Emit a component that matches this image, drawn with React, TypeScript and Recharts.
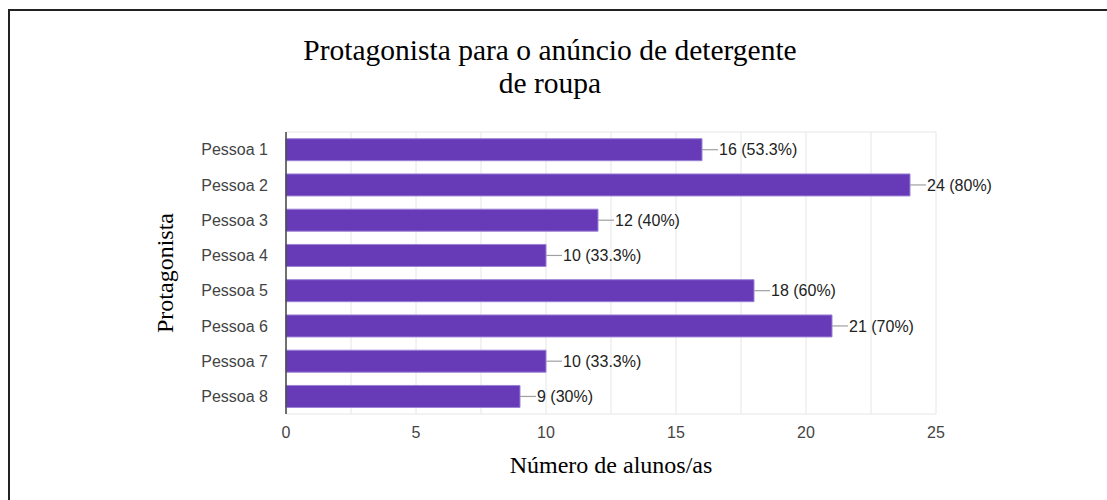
import { Bar, BarChart, CartesianGrid, LabelList, XAxis, YAxis } from "recharts"

const pessoas = ["Pessoa 1", "Pessoa 2", "Pessoa 3", "Pessoa 4", "Pessoa 5", "Pessoa 6", "Pessoa 7", "Pessoa 8"]
const alunos = [16, 24, 12, 10, 18, 21, 10, 9]
const percentuais = ["53.3%", "80%", "40%", "33.3%", "60%", "70%", "33.3%", "30%"]
const xTicks = [0, 5, 10, 15, 20, 25]
const gridValues = [0, 2.5, 5, 7.5, 10, 12.5, 15, 17.5, 20, 22.5, 25]

const data = pessoas.map((p, i) => ({ pessoa: p, alunos: alunos[i], pct: percentuais[i] }))

const sans = "Arial, 'Liberation Sans', sans-serif"
const serif = "'Times New Roman', 'Liberation Serif', serif"

const BarLabel = (props: any) => {
  const { x, y, width, height, index } = props
  const end = Number(x) + Number(width)
  const cy = Number(y) + Number(height) / 2
  return (
    <g>
      <line x1={end} y1={cy} x2={end + 16} y2={cy} stroke="#a0a0a0" strokeWidth={1.2} />
      <text x={end + 17} y={cy} dy="0.36em" fontFamily={sans} fontSize={16} fill="#222">
        {alunos[index]} ({percentuais[index]})
      </text>
    </g>
  )
}

const App = () => {
  return (
    <div style={{ position: "absolute", left: 0, top: 0, width: 1107, height: 500, overflow: "hidden", background: "#fff" }}>
      {/* frame + title */}
      <svg width={1107} height={500} style={{ position: "absolute", left: 0, top: 0 }}>
        <line x1={9} y1={9} x2={9} y2={500} stroke="#222" strokeWidth={2} />
        <line x1={8} y1={10} x2={1107} y2={10} stroke="#222" strokeWidth={2} />
        <text x={550} y={60} textAnchor="middle" fontFamily={serif} fontSize={29.5} fill="#000">
          Protagonista para o anúncio de detergente
        </text>
        <text x={550} y={93.3} textAnchor="middle" fontFamily={serif} fontSize={29.5} fill="#000">
          de roupa
        </text>
      </svg>
      <div style={{ position: "absolute", left: 0, top: 0 }}>
        <BarChart
          width={1107}
          height={500}
          data={data}
          layout="vertical"
          barCategoryGap="19%"
          margin={{ top: 132, right: 171, bottom: 26, left: 166 }}
        >
          <CartesianGrid
            stroke="#e6e6e6"
            verticalValues={gridValues}
            horizontalCoordinatesGenerator={({ offset, height }: any) => [offset.top, height - offset.bottom]}
          />
          <XAxis
            type="number"
            domain={[0, 25]}
            ticks={xTicks}
            height={60}
            axisLine={false}
            tickLine={false}
            tickSize={0}
            tickMargin={13}
            tick={{ fontFamily: sans, fontSize: 16, fill: "#444" }}
            label={{
              content: ({ viewBox }: any) => (
                <text
                  x={viewBox.x + viewBox.width / 2}
                  y={viewBox.y + viewBox.height - 0.7}
                  textAnchor="middle"
                  fontFamily={serif}
                  fontSize={24}
                  fill="#000"
                >
                  Número de alunos/as
                </text>
              )
            }}
          />
          <YAxis
            type="category"
            dataKey="pessoa"
            width={120}
            axisLine={{ stroke: "#444", strokeWidth: 1.5 }}
            tickLine={false}
            tickSize={0}
            tickMargin={18}
            tick={{ fontFamily: sans, fontSize: 16, fill: "#444" }}
            label={{
              content: ({ viewBox }: any) => {
                const lx = viewBox.x + 7
                const ly = viewBox.y + viewBox.height / 2
                return (
                  <text
                    x={lx}
                    y={ly}
                    transform={`rotate(-90 ${lx} ${ly})`}
                    textAnchor="middle"
                    fontFamily={serif}
                    fontSize={24}
                    fill="#000"
                  >
                    Protagonista
                  </text>
                )
              }
            }}
          />
          <Bar dataKey="alunos" fill="#673ab7" stroke="#9b82d6" strokeWidth={1} isAnimationActive={false}>
            <LabelList dataKey="alunos" content={BarLabel} />
          </Bar>
        </BarChart>
      </div>
    </div>
  )
}

export default App
